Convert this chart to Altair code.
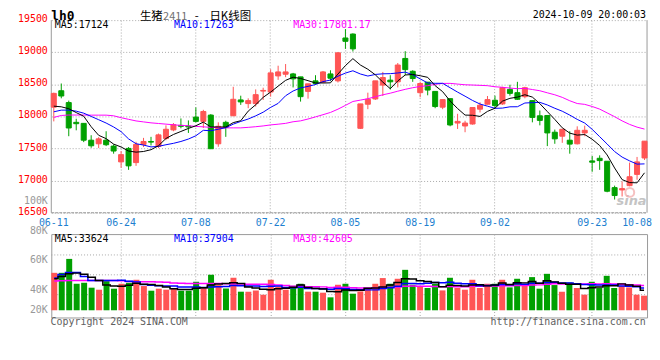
import altair as alt
import pandas as pd

# ---------------- data ----------------
dates = ["06-11","06-12","06-13","06-14","06-17","06-18","06-19","06-20","06-21",
         "06-24","06-25","06-26","06-27","06-28","07-01","07-02","07-03","07-04","07-05",
         "07-08","07-09","07-10","07-11","07-12","07-15","07-16","07-17","07-18","07-19",
         "07-22","07-23","07-24","07-25","07-26","07-29","07-30","07-31","08-01","08-02",
         "08-05","08-06","08-07","08-08","08-09","08-12","08-13","08-14","08-15","08-16",
         "08-19","08-20","08-21","08-22","08-23","08-26","08-27","08-28","08-29","08-30",
         "09-02","09-03","09-04","09-05","09-06","09-09","09-10","09-11","09-12","09-13",
         "09-18","09-19","09-20","09-23","09-24","09-25","09-26","09-27","09-30","10-08","10-09"]

opens = [18144,18400,18216,17908,17892,17630,17574,17630,17538,17292,
         17502,17281,17564,17610,17533,17656,17790,17861,17851,17990,
         17923,18021,17574,17908,18010,18257,18200,18200,18395,18380,
         18631,18657,18662,18616,18390,18554,18534,18662,18554,19222,
         19283,17815,18190,18272,18488,18565,18539,18903,18703,18370,
         18534,18390,18144,18277,17897,17851,17882,18113,18190,18252,
         18195,18421,18370,18308,18246,18010,18015,17754,17692,17630,
         17574,17743,17307,17348,17302,16891,16855,16922,17097,17353]
highs = [18370,18513,18246,17964,17897,17707,17677,17769,17564,17461,
         17523,17605,17666,17682,17733,17861,17897,17969,17938,18139,
         18103,18036,17908,17933,18462,18323,18282,18421,18447,18734,
         18790,18816,18678,18616,18508,18642,18708,18719,19001,19360,
         19294,18195,18370,18554,18693,18642,18832,19016,18719,18539,
         18534,18390,18262,18277,18041,17933,18139,18221,18318,18323,
         18462,18493,18539,18462,18246,18092,18015,17795,17800,17769,
         17846,17856,17384,17394,17302,16922,16989,17281,17369,17615]
lows = [17923,18282,17692,17784,17600,17512,17507,17538,17420,17199,
        17168,17230,17523,17548,17507,17630,17769,17815,17743,17908,
        17820,17497,17528,17682,18010,18180,18128,18154,18257,18308,
        18570,18611,18452,18231,18277,18493,18524,18549,18529,19052,
        19011,17805,18113,18257,18318,18421,18452,18642,18539,18298,
        18329,18128,18113,17846,17805,17754,17872,18062,18185,18128,
        18180,18323,18257,18282,17908,17861,17538,17574,17589,17420,
        17564,17692,17138,17168,16819,16706,16753,16912,17014,17322]
closes = [18359,18318,17820,17887,17630,17543,17651,17559,17461,17405,
          17230,17564,17610,17600,17713,17800,17872,17846,17836,17923,
          18077,17497,17846,17831,18267,18226,18246,18339,18405,18678,
          18693,18693,18585,18308,18508,18513,18693,18595,18991,19170,
          19052,18195,18267,18554,18606,18539,18801,18729,18590,18513,
          18411,18154,18262,17867,17923,17897,18139,18175,18262,18169,
          18447,18359,18267,18447,17985,17938,17743,17651,17800,17569,
          17784,17784,17287,17312,16835,16768,16876,17061,17292,17615]

ma5 = [18160,18150,18120,18060,18003,17840,17706,17654,17569,17524,
       17461,17444,17454,17482,17543,17657,17719,17766,17813,17855,
       17911,17836,17836,17835,17904,17933,18083,18182,18297,18379,
       18472,18562,18611,18591,18557,18521,18521,18523,18660,18792,
       18900,18801,18735,18648,18535,18432,18553,18646,18653,18634,
       18609,18479,18386,18241,18123,18021,18018,18000,18079,18128,
       18238,18282,18301,18338,18301,18199,18076,17953,17823,17740,
       17709,17718,17645,17547,17400,17197,17016,16970,16966,17122]
ma10 = [18072,18098,18098,18082,18051,18000,17949,17897,17836,17763,
        17650,17575,17554,17525,17534,17559,17581,17610,17648,17699,
        17784,17777,17801,17824,17880,17922,17960,18009,18066,18141,
        18203,18322,18396,18444,18468,18497,18542,18567,18626,18675,
        18711,18661,18629,18654,18664,18666,18677,18690,18650,18585,
        18521,18516,18516,18447,18379,18315,18249,18193,18160,18126,
        18130,18150,18151,18209,18215,18219,18179,18127,18081,18021,
        17954,17897,17799,17685,17570,17453,17367,17308,17257,17261]
ma30 = [17985,18015,18022,18022,18022,18020,18020,18020,18010,17980,
        17955,17930,17915,17900,17890,17880,17870,17860,17855,17845,
        17838,17830,17826,17822,17822,17822,17830,17840,17852,17868,
        17879,17892,17917,17931,17960,17993,18027,18062,18113,18172,
        18233,18254,18276,18307,18337,18362,18393,18422,18447,18467,
        18478,18500,18514,18515,18504,18493,18489,18484,18479,18462,
        18454,18442,18432,18437,18419,18400,18368,18337,18297,18244,
        18201,18188,18155,18114,18055,17996,17931,17876,17833,17803]

# volume, in thousands
vol = [63.7,63.7,87.4,45.1,46.8,38.4,35.0,49.7,36.7,45.1,
       46.8,51.9,41.2,33.3,36.7,35.0,37.5,33.3,33.3,48.5,
       38.4,60.3,42.9,37.2,55.3,31.6,31.6,33.8,26.5,51.9,
       40.4,35.0,41.6,45.1,31.6,31.6,29.9,22.0,43.4,45.1,
       28.2,32.1,37.9,45.1,54.8,45.1,53.6,68.8,43.4,40.6,
       37.9,45.1,33.8,55.3,37.9,35.0,51.9,37.9,45.1,45.1,
       51.9,38.9,53.6,43.4,56.4,36.7,62.0,42.9,31.6,47.3,
       37.9,26.5,48.5,37.9,58.6,37.9,41.7,38.9,26.5,24.8]
vma5 = [53.6,57.5,62.0,63.2,61.3,56.3,50.5,43.0,41.3,41.0,
        42.7,46.0,44.3,43.7,42.0,39.6,36.7,35.2,35.2,37.5,
        38.2,42.8,44.7,45.5,46.8,45.5,39.7,37.9,35.8,35.1,
        36.8,37.5,39.1,42.8,38.7,37.0,36.0,32.0,31.7,34.4,
        33.7,34.2,37.3,37.7,39.6,43.0,47.3,53.5,53.1,50.3,
        48.8,47.2,40.2,42.5,42.0,41.4,42.8,43.6,41.5,43.0,
        46.4,43.8,46.9,46.6,48.8,45.8,50.4,48.3,45.9,44.1,
        44.3,37.2,38.4,39.6,41.9,41.9,44.9,43.0,40.7,34.0]
vma10 = [54.8,60.8,64.2,64.2,57.5,50.7,50.7,50.7,50.7,51.2,
         49.5,48.3,43.7,42.5,41.5,41.1,41.4,39.7,39.4,39.7,
         38.9,39.7,39.9,40.3,42.2,41.8,41.2,41.3,40.6,40.9,
         41.2,38.6,38.5,39.3,36.9,36.9,36.7,35.6,37.2,36.6,
         35.4,35.1,34.7,34.7,37.0,38.4,40.7,45.4,45.4,45.0,
         45.9,47.2,46.8,47.8,46.1,45.1,45.0,41.9,42.0,42.5,
         43.9,43.3,45.2,44.1,45.9,46.1,47.1,47.6,46.3,46.5,
         45.1,43.8,43.3,42.8,43.0,43.1,41.1,40.7,40.2,37.9]
vma30 = [49.7,50.4,50.7,50.7,50.7,50.7,50.7,50.7,50.7,50.4,
         49.0,48.5,48.5,48.5,48.2,47.8,46.5,46.0,45.6,45.6,
         45.6,45.6,45.6,45.3,45.0,44.6,44.4,44.3,44.1,44.0,
         43.2,42.2,40.7,40.7,40.2,40.0,39.8,38.9,39.1,39.1,
         38.5,37.8,37.7,38.1,38.7,39.0,39.6,40.7,41.1,40.8,
         40.8,40.3,40.0,40.6,40.0,40.1,40.8,40.9,41.6,41.3,
         41.7,41.8,42.3,42.2,43.0,43.2,44.3,45.0,44.6,44.6,
         45.0,44.8,45.1,44.9,45.0,44.8,44.4,43.4,42.8,42.3]

date_ticks = ["06-11","06-24","07-08","07-22","08-05","08-19","09-02","09-23","10-08"]
price_ticks = [16500,17000,17500,18000,18500,19000,19500]
vol_ticks = [20,40,60,80,100]
price_ma_text = ["MA5:17124", "MA10:17263", "MA30:17801.17"]
vol_ma_text = ["MA5:33624", "MA10:37904", "MA30:42605"]

df = pd.DataFrame(dict(d=dates, o=opens, h=highs, l=lows, c=closes,
                       ma5=ma5, ma10=ma10, ma30=ma30,
                       v=vol, vma5=vma5, vma10=vma10, vma30=vma30))

# ---------------- styling ----------------
MONO = "DejaVu Sans Mono"
CJK = "Noto Sans CJK SC"
RED = "#ff5555"
GREEN = "#00a000"
GRID = "#a8a8a8"
BORDER = "#999999"
W, HP, HV = 600, 194, 84
MA_COLORS = ["#000000", "#0000ff", "#ff00ff"]

cond = alt.condition("datum.c >= datum.o", alt.value(RED), alt.value(GREEN))
grid_op = {"condition": {"test": "datum.value == '06-11' || datum.value == '10-08'", "value": 0},
           "value": 1}


def xenc(pad, labels):
    return alt.X("d:O", sort=None, title=None,
                 scale=alt.Scale(paddingInner=pad, paddingOuter=0),
                 axis=alt.Axis(values=date_ticks, labels=labels, labelAngle=0,
                               labelColor="#1e7fd0", labelFont=MONO, labelFontSize=10,
                               labelPadding=5, labelFlush=False, labelOverlap=False,
                               ticks=False, tickSize=0, domain=False,
                               grid=True, gridColor=GRID, gridDash=[1, 2],
                               gridOpacity=grid_op))


def text(t, x, y, color="#000000", size=10, font=MONO, align="left",
         weight="normal", style="normal"):
    return alt.Chart(pd.DataFrame({"t": [t]})).mark_text(
        align=align, baseline="alphabetic", font=font, fontSize=size,
        fontWeight=weight, fontStyle=style, color=color
    ).encode(text="t:N", x=alt.value(x), y=alt.value(y))


def rule(x, x2, y, y2, dash=None):
    kw = dict(color=BORDER, strokeWidth=1)
    if dash:
        kw["strokeDash"] = dash
    return alt.Chart(pd.DataFrame({"t": [0]})).mark_rule(**kw).encode(
        x=alt.value(x), x2=alt.value(x2), y=alt.value(y), y2=alt.value(y2))


# ---------------- price panel ----------------
ysc = alt.Scale(domain=[16500, 19500], nice=False, zero=False)
yax = alt.Axis(values=price_ticks, format="d", title=None, labelColor="#ff0000",
               labelFont=MONO, labelFontSize=10, labelPadding=4, labelOffset=-1.5,
               ticks=False, tickSize=0, domain=False, labelOverlap=False,
               grid=True, gridColor=GRID, gridDash=[1, 2])
xp = xenc(0.33, True)
base = alt.Chart(df)

logo = alt.Chart(pd.DataFrame({"t": ["sina"]})).mark_text(
    align="right", baseline="alphabetic", font="DejaVu Sans", fontSize=13,
    fontWeight="bold", fontStyle="italic", color="#c4c4c4"
).encode(text="t:N", x=alt.value(599.5), y=alt.value(186.5))
logo_eye = alt.Chart(pd.DataFrame({"t": [0]})).mark_point(
    shape="circle", filled=False, stroke="#f3a8a8", strokeWidth=2, size=80
).encode(x=alt.value(582.6), y=alt.value(173.5))

# panel frame: solid sides, dashed bottom, dotted top comes from the 19500 grid line
price_frame = [
    rule(0, 0, 0, HP),
    rule(W, W, 0, HP),
    rule(0, W, HP, HP, dash=[3, 1]),
]

wick = base.mark_rule(strokeWidth=1).encode(
    x=xp, y=alt.Y("l:Q", scale=ysc, axis=yax), y2="h:Q", color=cond)
body = base.mark_bar(strokeWidth=1).encode(
    x=xp, y=alt.Y("o:Q", scale=ysc, axis=yax), y2="c:Q", fill=cond, stroke=cond)
price_lines = [
    base.mark_line(strokeWidth=1, color=col).encode(
        x=xp, y=alt.Y(f"{f}:Q", scale=ysc, axis=yax))
    for f, col in zip(["ma30", "ma10", "ma5"], MA_COLORS[::-1])
]

price_texts = [
    text(price_ma_text[0], 3.6, 8.2, MA_COLORS[0]),
    text(price_ma_text[1], 123.6, 8.2, MA_COLORS[1]),
    text(price_ma_text[2], 243.6, 8.2, MA_COLORS[2]),
    text("lh0", 0, -0.5, size=13, weight="bold"),
    text("生猪", 89.3, -0.3, font=CJK, size=11.5),
    text("2411", 112.6, -0.3, color="#707070", font=CJK, size=11),
    text("-", 144.5, -0.3, font=CJK, size=11.5),
    text("日K线图", 159.3, -0.3, font=CJK, size=11.5),
    text("2024-10-09 20:00:03", 599, -2.5, align="right"),
]

price = alt.layer(logo, logo_eye, *price_frame, wick, body, *price_lines,
                  *price_texts).properties(
    width=W, height=HP, view=alt.ViewBackground(strokeOpacity=0))

# ---------------- volume panel ----------------
xv = xenc(0.2, False)
vsc = alt.Scale(domain=[-12.3, 129.6], nice=False, zero=False)
vbars = base.mark_bar().encode(
    x=xv, y=alt.Y("v:Q", scale=vsc, axis=None), y2=alt.datum(0), fill=cond)
vlines = [
    base.mark_line(strokeWidth=1.5, color=col, interpolate="step").encode(
        x=xv, y=alt.Y(f"{f}:Q", scale=vsc, axis=None))
    for f, col in zip(["vma30", "vma10", "vma5"], MA_COLORS[::-1])
]
vgrid = [
    alt.Chart(pd.DataFrame({"t": [0]})).mark_rule(
        color=GRID, strokeDash=[1, 2], strokeWidth=1
    ).encode(x=alt.value(0), x2=alt.value(W), y=alt.value(py))
    for py in (21, 41, 61)
]
vol_texts = [
    text(vol_ma_text[0], 3.6, 7.7, MA_COLORS[0]),
    text(vol_ma_text[1], 123.6, 7.7, MA_COLORS[1]),
    text(vol_ma_text[2], 243.6, 7.7, MA_COLORS[2]),
    text("Copyright 2024 SINA.COM", -0.7, 91.3, color="#606060"),
    text("http://finance.sina.com.cn", 598.6, 91.3, color="#606060", align="right"),
]
vol_inner = alt.layer(*vgrid, vbars, *vlines, *vol_texts)

vol_label_layer = alt.Chart(pd.DataFrame({"t": vol_ticks})).mark_tick(opacity=0).encode(
    y=alt.Y("t:Q",
            scale=alt.Scale(domain=[20, 40, 100], range=[76.3, 56, -34], nice=False, zero=False),
            axis=alt.Axis(values=vol_ticks, orient="left", title=None,
                          labelExpr="datum.value + 'K'", labelColor="#999999",
                          labelFont=MONO, labelFontSize=10, labelPadding=4,
                          ticks=False, tickSize=0, domain=False, grid=False,
                          labelOverlap=False)))

volume = alt.layer(vol_inner, vol_label_layer).resolve_scale(y="independent").properties(
    width=W, height=HV)

chart = alt.vconcat(price, volume, spacing=21.5, bounds="flush").properties(
    padding={"left": 8.6, "top": 0, "right": 0, "bottom": 0}
).configure_view(stroke=BORDER, strokeWidth=1)

chart.save("out.html", embed_options={"renderer": "svg", "actions": False})
